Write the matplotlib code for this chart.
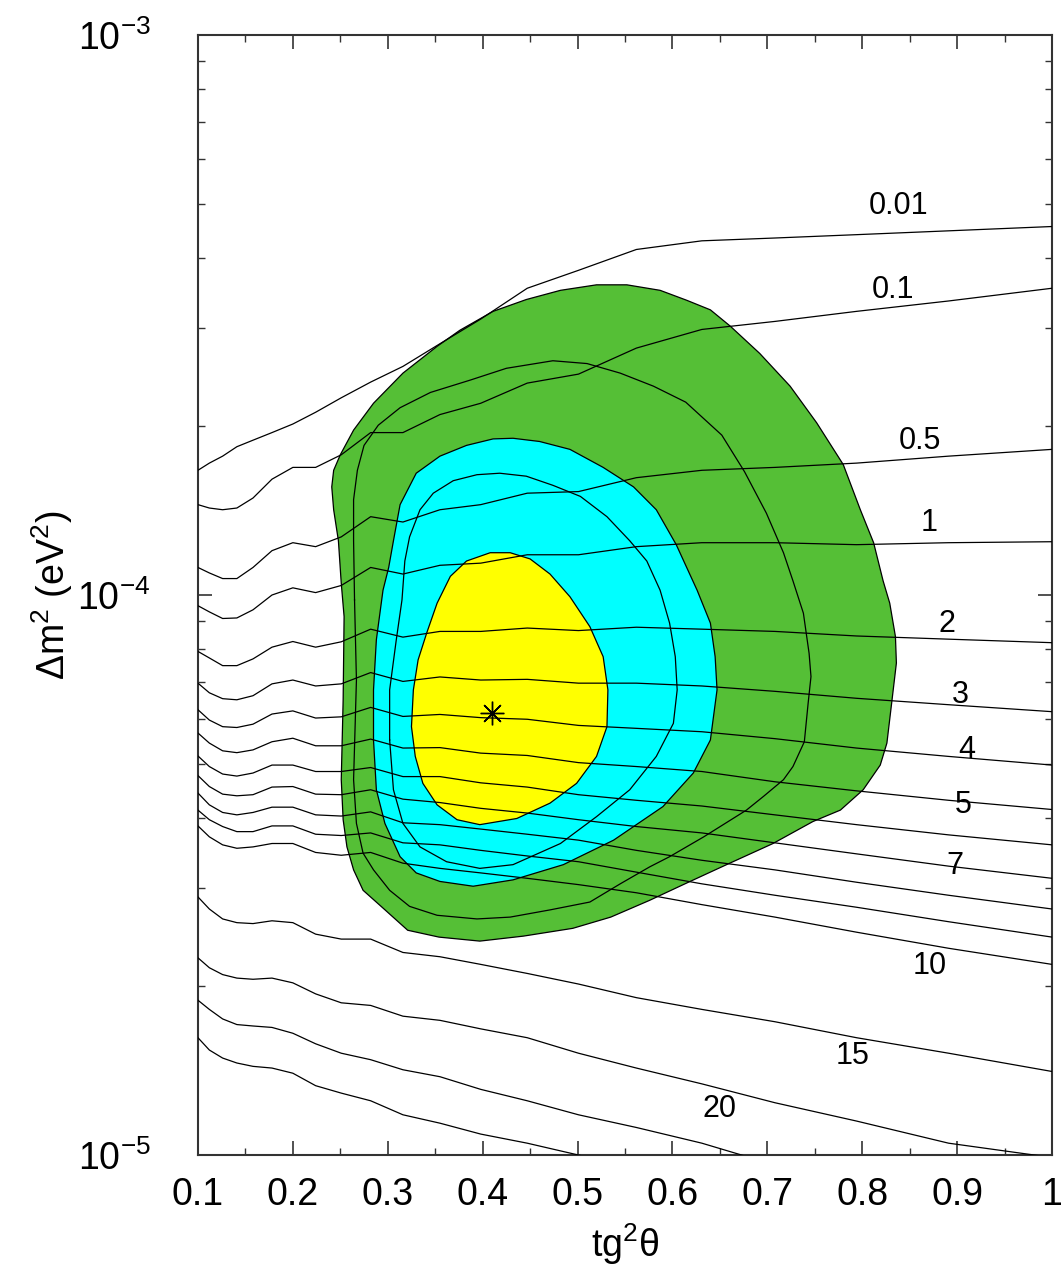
import numpy as np
import matplotlib
matplotlib.use("Agg")
import matplotlib.pyplot as plt
from matplotlib.ticker import FixedLocator, FixedFormatter, NullFormatter

plt.rcParams['font.family'] = ['Liberation Sans', 'DejaVu Sans']
plt.rcParams['mathtext.fontset'] = 'custom'
plt.rcParams['mathtext.rm'] = 'Liberation Sans'
plt.rcParams['mathtext.it'] = 'Liberation Sans:italic'

SCALE = 1e-5  # all dm2 values below are in units of 1e-5 eV^2

# ===== DATA =====
# tg^2(theta) grid of the iso-lines
tg2 = [0.1, 0.112, 0.126, 0.141, 0.158, 0.178, 0.2, 0.224, 0.251, 0.282, 0.316,
       0.355, 0.398, 0.447, 0.501, 0.562, 0.631, 0.708, 0.794, 0.891, 1.0]

iso_001 = [16.7, 17.2, 17.7, 18.4, 18.9, 19.5, 20.2, 21.2, 22.5, 24.0, 25.6,
           28.1, 31.1, 35.3, 38.0, 41.4, 42.9, 43.4, 44.0, 44.7, 45.5]
iso_01 = [14.5, 14.3, 14.2, 14.3, 14.9, 16.1, 16.9, 16.9, 17.8, 19.5, 19.5,
          21.0, 22.0, 23.9, 24.8, 27.6, 29.8, 30.8, 32.1, 33.5, 35.3]
iso_05 = [11.2, 10.95, 10.7, 10.7, 11.2, 12.0, 12.4, 12.2, 12.7, 13.8, 13.5,
          14.2, 14.5, 15.2, 15.3, 16.2, 16.7, 16.9, 17.2, 17.7, 18.2]
iso_1 = [9.57, 9.33, 9.08, 9.10, 9.41, 10.0, 10.3, 10.1, 10.4, 11.2, 10.9,
         11.3, 11.4, 11.8, 11.8, 12.2, 12.4, 12.4, 12.3, 12.4, 12.45]
iso_2 = [7.93, 7.72, 7.48, 7.48, 7.69, 8.07, 8.26, 8.07, 8.25, 8.69, 8.41,
         8.61, 8.61, 8.73, 8.64, 8.76, 8.69, 8.61, 8.45, 8.34, 8.22]
iso_3 = [6.96, 6.69, 6.53, 6.50, 6.61, 6.94, 7.05, 6.88, 6.94, 7.27, 7.01,
         7.14, 7.05, 7.07, 6.96, 6.96, 6.88, 6.73, 6.54, 6.37, 6.19]
iso_4 = [6.24, 5.98, 5.82, 5.80, 5.88, 6.13, 6.21, 6.03, 6.06, 6.30, 6.07,
         6.12, 6.04, 6.00, 5.85, 5.78, 5.70, 5.54, 5.33, 5.15, 4.97]
iso_5 = [5.67, 5.44, 5.27, 5.23, 5.29, 5.47, 5.55, 5.38, 5.38, 5.53, 5.33,
         5.34, 5.22, 5.17, 5.02, 4.94, 4.84, 4.64, 4.47, 4.30, 4.14]
iso_6 = [5.16, 4.94, 4.79, 4.75, 4.81, 4.97, 4.97, 4.84, 4.84, 4.92, 4.74,
         4.74, 4.62, 4.54, 4.40, 4.30, 4.20, 4.05, 3.89, 3.73, 3.58]
iso_7 = [4.76, 4.55, 4.41, 4.38, 4.40, 4.54, 4.55, 4.41, 4.40, 4.49, 4.32,
         4.26, 4.16, 4.08, 3.97, 3.86, 3.76, 3.61, 3.45, 3.28, 3.12]
iso_8 = [4.43, 4.22, 4.09, 4.05, 4.09, 4.18, 4.18, 4.05, 4.03, 4.10, 3.92,
         3.89, 3.82, 3.74, 3.65, 3.50, 3.36, 3.23, 3.07, 2.91, 2.75]
iso_9 = [4.13, 3.97, 3.86, 3.78, 3.78, 3.87, 3.87, 3.74, 3.72, 3.76, 3.61,
         3.58, 3.50, 3.42, 3.34, 3.20, 3.05, 2.91, 2.77, 2.61, 2.45]
iso_10 = [3.87, 3.70, 3.58, 3.53, 3.55, 3.60, 3.60, 3.47, 3.43, 3.47, 3.32,
          3.25, 3.19, 3.12, 3.04, 2.94, 2.80, 2.66, 2.50, 2.34, 2.19]
iso_15 = [2.89, 2.75, 2.64, 2.60, 2.59, 2.62, 2.60, 2.48, 2.43, 2.43, 2.30,
          2.26, 2.19, 2.11, 2.02, 1.91, 1.82, 1.73, 1.62, 1.52, 1.41]
iso_20 = [2.25, 2.16, 2.10, 2.07, 2.06, 2.07, 2.03, 1.94, 1.87, 1.85, 1.77,
          1.74, 1.68, 1.62, 1.52, 1.43, 1.34, 1.24, 1.15, 1.05, 0.99]
iso_25 = [1.89, 1.82, 1.75, 1.71, 1.70, 1.69, 1.65, 1.58, 1.52, 1.48, 1.42,
          1.38, 1.31, 1.25, 1.18, 1.12, 1.05, 0.96]
iso_30 = [1.62, 1.54, 1.49, 1.46, 1.44, 1.43, 1.40, 1.33, 1.29, 1.25, 1.18,
          1.14, 1.09, 1.05, 1.00, 0.95]

# allowed regions (outer green, inner line in green, cyan, inner line in cyan, yellow)
green_x = [0.241, 0.243, 0.250, 0.264, 0.285, 0.316, 0.352, 0.376, 0.411, 0.446,
           0.482, 0.520, 0.552, 0.587, 0.615, 0.640, 0.661, 0.692, 0.724, 0.752,
           0.780, 0.798, 0.812, 0.822, 0.829, 0.835, 0.836, 0.831, 0.826, 0.819,
           0.801, 0.777, 0.748, 0.706, 0.657, 0.615, 0.576, 0.535, 0.495, 0.443,
           0.397, 0.354, 0.321, 0.293, 0.274, 0.264, 0.257, 0.253, 0.251, 0.253,
           0.254, 0.251, 0.248, 0.243]
green_y = [15.6, 16.7, 17.8, 19.7, 22.0, 24.9, 27.8, 29.7, 32.1, 33.7,
           35.0, 35.8, 35.8, 35.0, 33.6, 32.3, 30.2, 27.0, 23.6, 20.3,
           17.1, 14.2, 12.4, 10.6, 9.67, 8.43, 7.56, 6.41, 5.44, 4.97,
           4.49, 4.13, 3.94, 3.60, 3.30, 3.06, 2.85, 2.66, 2.54, 2.46,
           2.41, 2.45, 2.52, 2.78, 2.97, 3.23, 3.55, 3.97, 4.68, 6.50,
           9.15, 10.5, 12.5, 14.2]

green_in_x = [0.265, 0.264, 0.264, 0.268, 0.275, 0.290, 0.313, 0.345, 0.387, 0.425,
              0.474, 0.510, 0.545, 0.580, 0.614, 0.652, 0.676, 0.699, 0.717, 0.727,
              0.738, 0.744, 0.746, 0.743, 0.739, 0.727, 0.717, 0.696, 0.678, 0.633,
              0.597, 0.576, 0.545, 0.513, 0.471, 0.429, 0.394, 0.352, 0.323, 0.302,
              0.285, 0.274, 0.267, 0.264, 0.267]
green_in_y = [9.80, 12.5, 14.8, 16.7, 18.5, 20.1, 21.6, 23.0, 24.2, 25.4,
              26.2, 25.9, 24.9, 23.6, 22.1, 19.3, 16.6, 14.0, 11.9, 10.6,
              9.28, 7.87, 7.15, 6.41, 5.47, 4.94, 4.68, 4.37, 4.13, 3.70,
              3.41, 3.27, 3.05, 2.83, 2.74, 2.66, 2.64, 2.68, 2.78, 2.97,
              3.23, 3.46, 3.91, 4.68, 7.05]

cyan_x = [0.285, 0.285, 0.288, 0.295, 0.301, 0.306, 0.313, 0.330, 0.355, 0.383,
          0.411, 0.432, 0.460, 0.492, 0.527, 0.559, 0.583, 0.604, 0.626, 0.640,
          0.645, 0.647, 0.640, 0.622, 0.590, 0.538, 0.485, 0.432, 0.390, 0.355,
          0.330, 0.313, 0.297, 0.288]
cyan_y = [5.51, 6.77, 8.32, 10.2, 11.2, 12.5, 14.5, 16.5, 17.7, 18.5,
          19.0, 19.05, 18.8, 18.2, 16.9, 15.6, 14.2, 12.3, 10.2, 8.91,
          7.76, 6.77, 5.51, 4.81, 4.19, 3.65, 3.30, 3.10, 3.02, 3.08,
          3.19, 3.41, 3.91, 4.49]

cyan_in_x = [0.302, 0.302, 0.309, 0.315, 0.318, 0.323, 0.334, 0.348, 0.369, 0.394,
             0.418, 0.446, 0.474, 0.503, 0.531, 0.555, 0.573, 0.587, 0.597, 0.603,
             0.605, 0.601, 0.583, 0.555, 0.520, 0.482, 0.432, 0.397, 0.362, 0.334,
             0.316, 0.306]
cyan_in_y = [5.51, 6.77, 8.32, 9.80, 11.5, 12.7, 14.2, 15.2, 16.0, 16.4,
             16.5, 16.3, 15.7, 15.0, 13.8, 12.5, 11.5, 10.2, 8.91, 7.76,
             6.77, 5.90, 5.15, 4.49, 4.02, 3.60, 3.30, 3.25, 3.34, 3.55,
             3.91, 4.49]

yellow_x = [0.383, 0.408, 0.429, 0.450, 0.471, 0.492, 0.513, 0.527, 0.532, 0.531,
            0.520, 0.499, 0.471, 0.436, 0.397, 0.373, 0.352, 0.337, 0.329, 0.325,
            0.327, 0.332, 0.341, 0.352, 0.366]
yellow_y = [11.5, 11.9, 11.9, 11.6, 10.9, 9.93, 8.78, 7.76, 6.77, 5.82,
            5.15, 4.61, 4.25, 3.99, 3.89, 3.97, 4.22, 4.61, 5.15, 5.82,
            6.77, 7.66, 8.55, 9.67, 10.8]

best_fit = (0.410, 6.15)

iso_labels = ['0.01', '0.1', '0.5', '1', '2', '3', '4', '5', '7', '10', '15', '20']
label_x = [0.838, 0.832, 0.861, 0.871, 0.889, 0.903, 0.910, 0.906, 0.898, 0.871, 0.790, 0.650]
label_y = [49.6, 35.0, 18.8, 13.45, 8.88, 6.63, 5.29, 4.22, 3.28, 2.18, 1.50, 1.21]

xticks = [0.1, 0.2, 0.3, 0.4, 0.5, 0.6, 0.7, 0.8, 0.9, 1.0]
xticklabels = ['0.1', '0.2', '0.3', '0.4', '0.5', '0.6', '0.7', '0.8', '0.9', '1']
yticks = [1e-5, 1e-4, 1e-3]
yticklabels = [r'$10^{-5}$', r'$10^{-4}$', r'$10^{-3}$']

GREEN = '#55bf36'
CYAN = '#00ffff'
YELLOW = '#ffff00'

# ===== PLOT =====
fig = plt.figure(figsize=(10.62, 12.77), dpi=100)
ax = fig.add_axes([0.1864, 0.0955, 0.8042, 0.8771])


def region(xs, ys, color, z):
    ax.fill(xs, np.array(ys) * SCALE, facecolor=color, edgecolor='black',
            lw=0.9, zorder=z)


def ring(xs, ys, z):
    xs = list(xs) + [xs[0]]
    ys = list(ys) + [ys[0]]
    ax.plot(xs, np.array(ys) * SCALE, color='black', lw=0.9, zorder=z)


region(green_x, green_y, GREEN, 1)
ring(green_in_x, green_in_y, 2)
region(cyan_x, cyan_y, CYAN, 3)
ring(cyan_in_x, cyan_in_y, 4)
region(yellow_x, yellow_y, YELLOW, 5)

for vals in [iso_001, iso_01, iso_05, iso_1, iso_2, iso_3, iso_4, iso_5, iso_6,
             iso_7, iso_8, iso_9, iso_10, iso_15, iso_20, iso_25, iso_30]:
    ax.plot(tg2[:len(vals)], np.array(vals) * SCALE, color='black', lw=0.9,
            zorder=6)

ax.plot(best_fit[0], best_fit[1] * SCALE, marker=(8, 2, 0), ms=17,
        mec='black', mew=1.0, color='black', zorder=7)

for txt, lx, ly in zip(iso_labels, label_x, label_y):
    ax.text(lx, ly * SCALE, txt, fontsize=22, ha='center', va='center', zorder=8)

ax.set_xlim(0.1, 1.0)
ax.set_yscale('log')
ax.set_ylim(1e-5, 1e-3)

ax.xaxis.set_major_locator(FixedLocator(xticks))
ax.xaxis.set_major_formatter(FixedFormatter(xticklabels))
ax.xaxis.set_minor_locator(FixedLocator(np.array(xticks[:-1]) + 0.05))
ax.yaxis.set_major_locator(FixedLocator(yticks))
ax.yaxis.set_major_formatter(FixedFormatter(yticklabels))
ax.yaxis.set_minor_locator(FixedLocator([m * d for d in (1e-5, 1e-4) for m in range(2, 10)]))
ax.yaxis.set_minor_formatter(NullFormatter())

ax.tick_params(which='both', direction='in', top=True, right=True, colors='#333333')
ax.tick_params(which='major', length=10, width=1.2)
ax.tick_params(which='minor', length=5, width=1.0)
ax.tick_params(axis='x', which='major', labelsize=27, pad=16, labelcolor='black')
ax.tick_params(axis='y', which='major', labelsize=27, pad=34, labelcolor='black')

for s in ax.spines.values():
    s.set_color('#333333')
    s.set_linewidth(1.5)

ax.set_xlabel(r'$\mathrm{tg}^2\mathrm{\theta}$', fontsize=27, labelpad=6)
ax.set_ylabel(r'$\Delta\mathrm{m}^2\ (\mathrm{eV}^2)$', fontsize=27, labelpad=2)

fig.savefig('out.png', dpi=100)
